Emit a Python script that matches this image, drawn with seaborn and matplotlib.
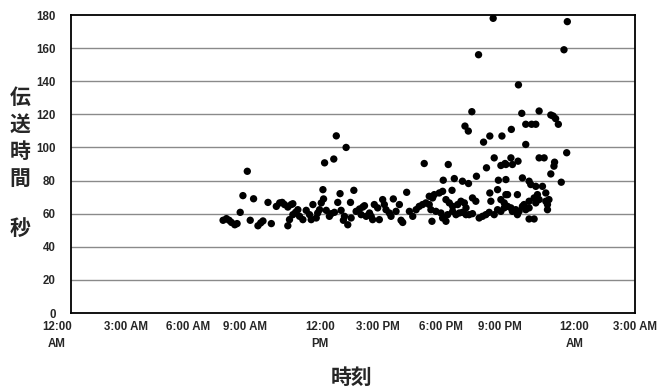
import matplotlib
matplotlib.use("Agg")
import matplotlib.pyplot as plt
from matplotlib.transforms import ScaledTranslation
import seaborn as sns
import pandas as pd

# Time of day (hours since 12:00 AM) and transfer time (seconds)
hours = [
    7.28, 7.44, 7.57, 7.68, 7.84, 7.95,
    8.10, 8.23, 8.44, 8.58, 8.74,
    8.95, 9.08, 9.19, 9.43, 9.59,
    9.83, 9.99, 10.11, 10.22, 10.38, 10.38, 10.46, 10.54, 10.62, 10.62, 10.75, 10.86, 10.94,
    11.10, 11.26, 11.42, 11.50, 11.58, 11.74, 11.81, 11.90, 11.98, 12.06, 12.09, 12.14,
    12.22, 12.37, 12.46, 12.58, 12.61, 12.70, 12.77, 12.88, 12.93, 13.04, 13.09, 13.17, 13.25,
    13.38, 13.41, 13.54, 13.65, 13.81, 13.89, 13.97, 14.05, 14.13, 14.29, 14.37, 14.44, 14.52,
    14.68, 14.76, 14.92, 15.00, 15.08, 15.24, 15.32, 15.43, 15.56, 15.72, 15.80, 15.88, 16.07,
    16.20, 16.36, 16.52, 16.67, 16.83, 16.91, 16.99,
    17.15, 17.15, 17.23, 17.28, 17.31, 17.39, 17.47, 17.63, 17.71, 17.79, 17.79, 17.82, 17.95,
    17.95, 18.03, 18.06, 18.11, 18.24, 18.27, 18.27, 18.35, 18.43, 18.51, 18.59, 18.67, 18.74,
    18.74, 18.83, 18.86, 18.91, 18.91, 19.02, 19.03, 19.06, 19.19, 19.22, 19.22, 19.38, 19.41,
    19.51, 19.54, 19.70, 19.75, 19.86, 19.89, 20.02, 20.05, 20.05, 20.10, 20.21, 20.26, 20.26,
    20.42, 20.42, 20.46, 20.58, 20.58, 20.58, 20.63, 20.74, 20.74, 20.78, 20.82, 20.82, 20.82,
    20.90, 20.90, 21.06, 21.06, 21.08, 21.13, 21.13, 21.29, 21.37, 21.37, 21.40, 21.42, 21.45,
    21.58, 21.61, 21.61, 21.69, 21.77, 21.77, 21.77, 21.93, 21.93, 21.93, 21.93, 22.01, 22.05,
    22.17, 22.17, 22.25, 22.25, 22.25, 22.33, 22.41, 22.41, 22.41, 22.57, 22.65, 22.73, 22.73,
    22.81, 22.81, 22.88, 22.97, 22.97, 23.08, 23.12, 23.15, 23.20, 23.33, 23.47, 23.60, 23.73,
    23.76,
]
seconds = [
    56, 57, 56, 54.7, 53.3, 54,
    60.8, 70.9, 85.6, 56, 69,
    52.7, 54.4, 55.6, 66.8, 54,
    64.4, 66.5, 66.8, 65.5, 64, 52.7, 56.4, 65.5, 66, 59.4, 60.8, 62.4, 58.4,
    56.4, 62, 59.4, 56.4, 65.5, 57.4, 60.4, 62.4, 66.5, 74.5, 68.9, 90.7,
    62, 58.4, 60, 93, 60.8, 107, 66.8, 72.1, 62, 56, 58.4, 100, 53.3,
    66.8, 57.4, 74.1, 61.4, 62.8, 59.4, 64, 64.8, 58.4, 60.4, 58.4, 56.4, 65.5,
    63.5, 56.4, 68.5, 65.5, 62.4, 60.4, 58.4, 68.9, 61.4, 65.5, 56, 54.7, 72.9,
    61.4, 58.4, 62.4, 64.4, 65.5, 90.3, 66.5,
    65.5, 70.5, 62.4, 55.4, 69.5, 71.5, 61.4, 72.5, 60.4, 73.5, 57.4, 80.2, 68.5,
    55.4, 59.4, 89.7, 66.5, 74.1, 64.4, 61.4, 81.2, 59.4, 65.5, 60.4, 67.5, 79.6,
    60.8, 66.5, 112.9, 63.5, 59.4, 109.9, 78.2, 59.4, 121.6, 69.5, 60, 67.5, 82.6,
    156, 57.4, 58.4, 103.2, 59.4, 87.7, 60.8, 72.5, 106.9, 67.5, 178, 93.7, 59.4,
    74.5, 62.4, 80.2, 68.5, 89.1, 61.4, 106.9, 63.5, 66.5, 90.3, 71.5, 80.6, 89.7,
    64.4, 71.5, 93.7, 63.5, 110.9, 89.7, 61.4, 62.4, 59.4, 71.5, 91.7, 137.8, 61.4,
    120.6, 81.6, 64.4, 65.5, 101.8, 114, 62.4, 79.6, 67.5, 63.5, 56.8, 77.6, 114,
    69.5, 56.8, 76.5, 66.5, 114, 71.5, 93.7, 68.5, 122, 76.5, 93.7, 67.5, 72.5,
    65.5, 62.4, 68.5, 84, 119.6, 119, 88.7, 91.1, 117.4, 114, 79, 159, 96.8,
    176,
]

tick_hours = [0, 3, 6, 9, 12, 15, 18, 21, 24, 27]
tick_labels = ["12:00\nAM", "3:00 AM", "6:00 AM", "9:00 AM", "12:00\nPM",
               "3:00 PM", "6:00 PM", "9:00 PM", "12:00\nAM", "3:00 AM"]
y_ticks = [0, 20, 40, 60, 80, 100, 120, 140, 160, 180]

df = pd.DataFrame({"hour": hours, "sec": seconds})

sns.set_style("white")
plt.rcParams["font.family"] = ["Liberation Sans", "DejaVu Sans"]

fig = plt.figure(figsize=(6.64, 3.87), dpi=100)
ax = fig.add_axes([71 / 664, 1 - 313 / 387, (635 - 71) / 664, (313 - 15) / 387])

for yv in y_ticks[1:-1]:
    ax.axhline(yv, color="#8a8a8a", linewidth=1.0, zorder=0)

sns.scatterplot(data=df, x="hour", y="sec", color="black", s=28,
                edgecolor="none", ax=ax, zorder=3)

ax.set_xlim(0, 27)
ax.set_ylim(0, 180)
ax.set_xticks(tick_hours)
ax.set_xticklabels(tick_labels, fontsize=8.3, fontweight="bold", linespacing=1.5)
ax.set_yticks(y_ticks)
ax.set_yticklabels([str(v) for v in y_ticks], fontsize=8.3, fontweight="bold")
ax.tick_params(axis="x", direction="in", length=3, width=0.8, color="black", pad=6)
ax.tick_params(axis="y", length=0, pad=11)

# small horizontal shifts of the category labels (as printed in the original)
label_shift_px = [-14, -8, -8, -14, -2, -6, -6, -10, 2, 0]
for lbl, dx in zip(ax.get_xticklabels(), label_shift_px):
    lbl.set_verticalalignment("top")
    lbl.set_transform(lbl.get_transform() + ScaledTranslation(dx / 100, 0, fig.dpi_scale_trans))

for sp in ax.spines.values():
    sp.set_visible(True)
    sp.set_color("black")
    sp.set_linewidth(1.3)
ax.set_xlabel("")
ax.set_ylabel("")

cjk = ["Noto Sans CJK JP", "DejaVu Sans"]
ylab_chars = ["伝", "送", "時", "間", "秒"]
ylab_y = [97, 124, 151, 178, 228]
for ch, yp in zip(ylab_chars, ylab_y):
    fig.text(20 / 664, 1 - yp / 387, ch, family=cjk, fontsize=15, fontweight="bold",
             ha="center", va="center")
fig.text(352 / 664, 1 - 377 / 387, "時刻", family=cjk, fontsize=15, fontweight="bold",
         ha="center", va="center")

fig.savefig("out.png", dpi=100)
